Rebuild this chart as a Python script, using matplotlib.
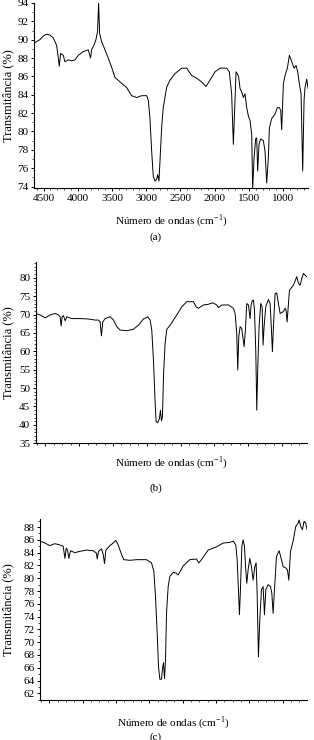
import matplotlib
matplotlib.use("Agg")
import matplotlib.pyplot as plt
from matplotlib.ticker import MultipleLocator

plt.rcParams['font.family'] = ['Liberation Serif', 'DejaVu Serif']
plt.rcParams['mathtext.fontset'] = 'custom'
plt.rcParams['mathtext.rm'] = 'Liberation Serif'

# --- espectro (a) ---
wn_a = [4641, 4602, 4554, 4505, 4456, 4407, 4359, 4310, 4286, 4271, 4251, 4212, 4188,
        4139, 4091, 4042, 3993, 3920, 3847, 3813, 3798, 3764, 3735, 3711, 3696, 3681,
        3652, 3603, 3555, 3506, 3457, 3384, 3287, 3214, 3140, 3067, 2994, 2970, 2946,
        2921, 2897, 2872, 2848, 2833, 2814, 2799, 2775, 2751, 2702, 2653, 2580, 2483,
        2409, 2336, 2263, 2190, 2127, 2068, 1995, 1922, 1825, 1786, 1752, 1727, 1703,
        1688, 1669, 1649, 1630, 1605, 1581, 1557, 1532, 1508, 1484, 1459, 1445, 1425,
        1401, 1386, 1372, 1352, 1328, 1289, 1265, 1240, 1216, 1201, 1167, 1118, 1084,
        1055, 1035, 1021, 996, 972, 938, 908, 874, 840, 811, 787, 767, 738, 714, 694,
        680, 655, 636]
t_a = [89.6, 89.8, 90.0, 90.4, 90.6, 90.5, 90.2, 89.4, 88.1, 87.1, 88.5, 88.3, 87.6,
       87.8, 87.7, 87.8, 88.3, 88.7, 88.9, 88.0, 88.9, 89.4, 90.0, 90.9, 94.0, 90.7,
       89.8, 88.9, 88.0, 87.0, 85.9, 85.4, 84.8, 83.9, 83.7, 83.9, 83.9, 83.4, 81.5,
       77.9, 75.1, 74.6, 74.8, 75.3, 74.6, 76.8, 80.4, 82.6, 84.8, 85.6, 86.3, 86.9,
       86.9, 86.1, 85.8, 85.4, 84.9, 85.6, 86.5, 86.9, 86.9, 86.5, 84.1, 78.6, 83.4,
       86.5, 86.3, 85.9, 84.7, 84.3, 83.7, 84.1, 82.6, 81.7, 81.2, 79.7, 73.7, 77.1,
       79.2, 79.3, 75.7, 78.6, 79.2, 79.0, 77.9, 74.4, 77.1, 80.4, 81.4, 81.9, 82.6,
       82.6, 82.3, 80.2, 85.2, 86.1, 86.9, 88.3, 87.6, 86.9, 87.2, 86.5, 85.4, 84.1,
       75.7, 83.4, 84.8, 85.7, 84.7]

# --- espectro (b) ---
wn_b = [4641, 4577, 4503, 4429, 4355, 4306, 4281, 4267, 4252, 4232, 4207, 4183, 4109,
        3986, 3863, 3764, 3715, 3690, 3671, 3651, 3616, 3543, 3493, 3444, 3395, 3296,
        3198, 3124, 3050, 2986, 2951, 2927, 2902, 2877, 2863, 2838, 2813, 2799, 2784,
        2769, 2754, 2730, 2705, 2656, 2607, 2557, 2483, 2410, 2311, 2272, 2237, 2163,
        2089, 2025, 1966, 1942, 1892, 1794, 1720, 1695, 1671, 1656, 1641, 1621, 1597,
        1582, 1562, 1543, 1523, 1498, 1474, 1459, 1439, 1424, 1409, 1390, 1375, 1360,
        1341, 1316, 1296, 1282, 1267, 1242, 1203, 1178, 1158, 1144, 1129, 1104, 1080,
        1055, 1030, 981, 956, 942, 927, 912, 892, 833, 784, 759, 735, 710, 685, 661, 636]
t_b = [70.3, 69.9, 69.1, 69.9, 70.3, 69.9, 69.4, 66.9, 69.4, 69.7, 68.3, 69.4, 68.9,
       68.9, 68.8, 68.5, 68.5, 68.0, 64.2, 68.0, 68.9, 69.4, 68.5, 66.7, 65.8, 65.6,
       66.0, 67.1, 68.8, 69.4, 68.5, 65.8, 57.6, 45.9, 40.9, 40.6, 41.8, 44.0, 41.1,
       42.2, 53.1, 62.2, 66.0, 67.1, 68.5, 69.9, 72.1, 73.5, 73.5, 72.1, 71.7, 72.6,
       72.8, 73.2, 72.6, 71.9, 72.6, 72.6, 71.7, 70.3, 64.9, 54.9, 64.0, 66.7, 66.2,
       64.0, 61.3, 65.8, 73.0, 72.6, 68.9, 72.6, 73.9, 73.9, 71.2, 60.3, 44.0, 55.8,
       66.7, 73.0, 72.1, 61.7, 66.7, 72.1, 74.1, 73.0, 65.8, 59.9, 66.7, 75.7, 75.9,
       73.0, 70.3, 70.8, 71.7, 71.2, 68.0, 71.7, 76.6, 78.0, 80.3, 78.5, 78.0, 79.8,
       81.2, 80.7, 80.3]

# --- espectro (c) ---
wn_c = [4641, 4566, 4491, 4416, 4341, 4291, 4266, 4246, 4226, 4207, 4182, 4117, 4042,
        3942, 3842, 3792, 3782, 3762, 3717, 3692, 3672, 3652, 3592, 3542, 3502, 3467,
        3417, 3383, 3293, 3193, 3043, 2968, 2933, 2908, 2883, 2863, 2843, 2818, 2803,
        2788, 2773, 2758, 2743, 2718, 2693, 2643, 2603, 2569, 2494, 2394, 2294, 2259,
        2219, 2119, 1994, 1894, 1794, 1744, 1704, 1684, 1665, 1650, 1635, 1614, 1594,
        1575, 1555, 1540, 1520, 1495, 1470, 1445, 1420, 1400, 1385, 1365, 1345, 1320,
        1295, 1275, 1255, 1220, 1185, 1165, 1145, 1125, 1095, 1055, 1020, 995, 955,
        930, 910, 885, 846, 806, 771, 756, 731, 706, 681, 656, 636]
t_c = [85.8, 85.5, 85.1, 85.4, 85.2, 85.0, 83.1, 84.7, 84.4, 83.1, 84.3, 84.0, 84.2,
       84.4, 84.3, 83.9, 83.0, 84.2, 84.6, 83.7, 82.3, 84.4, 85.1, 85.5, 85.9, 85.2,
       83.7, 82.9, 82.8, 82.9, 82.9, 82.4, 81.1, 77.1, 71.4, 66.2, 64.2, 64.2, 65.9,
       66.8, 64.3, 67.2, 74.5, 78.7, 80.3, 80.9, 80.8, 80.5, 81.9, 82.9, 83.0, 82.4,
       82.9, 84.4, 84.9, 85.5, 85.6, 85.8, 85.2, 82.9, 78.2, 74.3, 78.2, 85.0, 86.0,
       85.0, 81.3, 79.2, 81.3, 83.1, 81.8, 79.7, 81.8, 82.4, 77.7, 67.7, 73.5, 78.2,
       78.7, 74.3, 78.2, 79.0, 78.7, 77.7, 74.5, 78.2, 83.4, 84.3, 82.9, 81.8, 81.6,
       81.3, 79.7, 84.2, 85.8, 88.1, 88.6, 89.1, 88.1, 87.6, 88.9, 88.6, 87.6]

x_ticks_a = [4500, 4000, 3500, 3000, 2500, 2000, 1500, 1000]
xlim = (4641, 636)

fig = plt.figure(figsize=(3.14, 7.40), dpi=100)

# posicoes dos eixos [left, bottom, width, height] em fracao da figura
ax_a = fig.add_axes([0.108, 0.746, 0.873, 0.250])
ax_b = fig.add_axes([0.114, 0.401, 0.863, 0.245])
ax_c = fig.add_axes([0.127, 0.054, 0.851, 0.245])

panels = [
    (ax_a, wn_a, t_a, (73.85, 94.0), 2, 1, True, -0.073, -0.13),
    (ax_b, wn_b, t_b, (35, 84.3), 5, 1, False, -0.080, -0.059),
    (ax_c, wn_c, t_c, (60.95, 89.3), 2, 1, False, -0.097, -0.077),
]

for ax, wn, t, ylim, ymaj, ymin, xlabels, ylab_x, xlab_y in panels:
    ax.plot(wn, t, color='black', linewidth=0.7)
    ax.set_xlim(*xlim)
    ax.set_ylim(*ylim)
    for s in ['top', 'right']:
        ax.spines[s].set_visible(False)
    for s in ['left', 'bottom']:
        ax.spines[s].set_linewidth(0.8)
    ax.yaxis.set_major_locator(MultipleLocator(ymaj))
    ax.yaxis.set_minor_locator(MultipleLocator(ymin))
    if xlabels:
        ax.set_xticks(x_ticks_a)
        ax.xaxis.set_minor_locator(MultipleLocator(100))
    else:
        ax.xaxis.set_major_locator(MultipleLocator(500))
        ax.xaxis.set_minor_locator(MultipleLocator(125))
        ax.set_xticklabels([])
    ax.tick_params(which='major', direction='out', length=2.5, width=0.7,
                   labelsize=8, pad=1.5, colors='black')
    ax.tick_params(which='minor', direction='out', length=1.2, width=0.5)
    ax.set_ylabel('Transmitância (%)', fontsize=9)
    ax.yaxis.set_label_coords(ylab_x, 0.5)
    ax.set_xlabel('Número de ondas (cm$^{-1}$)', fontsize=8)
    ax.xaxis.set_label_coords(0.5, xlab_y)

fig.text(0.497, 1 - 237 / 740, '(a)', ha='center', va='center', fontsize=8)
fig.text(0.497, 1 - 488 / 740, '(b)', ha='center', va='center', fontsize=8)
fig.text(0.497, 1 - 737 / 740, '(c)', ha='center', va='center', fontsize=8)

fig.savefig('out.png', dpi=100)
